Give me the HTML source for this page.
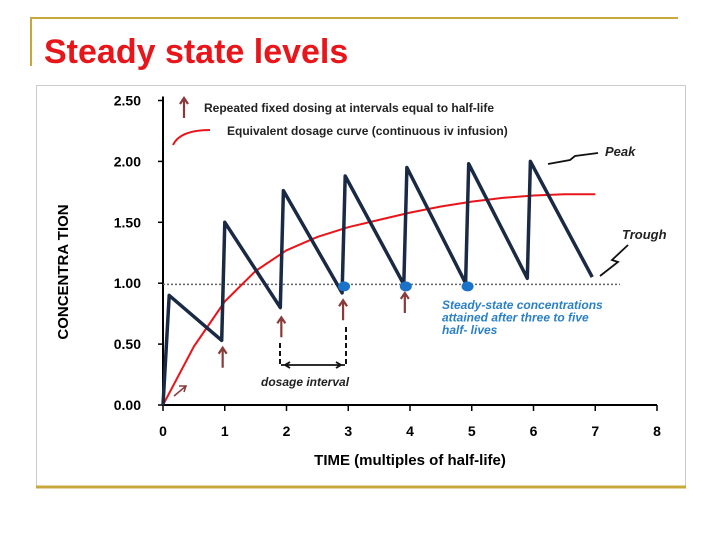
<!DOCTYPE html>
<html><head><meta charset="utf-8"><style>
body{margin:0;width:720px;height:540px;background:#fff;overflow:hidden;font-family:"Liberation Sans",sans-serif}
</style></head><body>
<svg width="720" height="540" xmlns="http://www.w3.org/2000/svg" font-family="Liberation Sans, sans-serif">
<line x1="30" y1="18" x2="678" y2="18" stroke="#c8a83c" stroke-width="2"/>
<line x1="31" y1="18" x2="31" y2="66" stroke="#c8a83c" stroke-width="2"/>
<text x="44" y="63" font-size="34" font-weight="bold" fill="#e8161b">Steady state levels</text>
<rect x="36.5" y="85.5" width="649" height="401" fill="#fff" stroke="#ccc"/>
<line x1="36" y1="487" x2="686" y2="487" stroke="#c8a83c" stroke-width="3"/>
<g id="chart"></g>
</svg>
<script>
const xTicks=[0,1,2,3,4,5,6,7,8];
const yTicks=[0,0.5,1,1.5,2,2.5];
const yTickLabels=["0.00","0.50","1.00","1.50","2.00","2.50"];
const dosingTimes=[0,0.1,0.95,1.0,1.9,1.95,2.9,2.95,3.9,3.95,4.9,4.95,5.9,5.95,6.95];
const dosingConc=[0,0.9,0.53,1.5,0.8,1.76,0.92,1.88,0.99,1.95,1.0,1.98,1.04,2.0,1.05];
const infusionTimes=[0,0.5,1,1.5,2,2.5,3,3.5,4,4.5,5,5.5,6,6.5,7];
const infusionConc=[0,0.48,0.85,1.1,1.27,1.38,1.46,1.52,1.58,1.63,1.67,1.7,1.72,1.73,1.73];
const steadyTimes=[2.9,3.9,4.9];
const steadyConc=[0.99,0.99,0.99];
const doseArrowTimes=[0.95,1.9,2.9,3.9];
const doseArrowTop=[0.47,0.72,0.86,0.92];
const X=t=>163+t*61.75;
const Y=c=>405-c*121.8;
const NS="http://www.w3.org/2000/svg";
const g=document.getElementById('chart');
function mk(tag,at,txt){const e=document.createElementNS(NS,tag);for(const k in at)e.setAttribute(k,at[k]);if(txt!==undefined)e.textContent=txt;g.appendChild(e);return e;}
let e;
e=mk('line',{x1:X(0),y1:Y(0),x2:X(8),y2:Y(0),stroke:'#000','stroke-width':2});


e=mk('line',{x1:X(0),y1:Y(0),x2:X(0),y2:Y(2.5)-4,stroke:'#000','stroke-width':2});


xTicks.forEach(t=>{
 e=mk('line',{x1:X(t),y1:Y(0),x2:X(t),y2:Y(0)+6,stroke:'#000','stroke-width':1.5});
 
 
 e=mk('text',{x:X(t),y:436,'font-size':14,'font-weight':'bold','text-anchor':'middle'},String(t));
 
 
});
yTicks.forEach((v,i)=>{
 e=mk('line',{x1:X(0)-5,y1:Y(v),x2:X(0),y2:Y(v),stroke:'#000','stroke-width':1.5});
 
 
 e=mk('text',{x:141,y:Y(v)+5,'font-size':14,'font-weight':'bold','text-anchor':'end'},yTickLabels[i]);
 
 
});
e=mk('text',{x:410,y:465,'font-size':15,'font-weight':'bold','text-anchor':'middle'},'TIME (multiples of half-life)');


e=mk('text',{x:0,y:0,'font-size':15,'font-weight':'bold','text-anchor':'middle',transform:'translate(68,272) rotate(-90)'},'CONCENTRA TION');


e=mk('line',{x1:X(0),y1:Y(0.99),x2:X(7.4),y2:Y(0.99),stroke:'#666','stroke-width':1.5,'stroke-dasharray':'2,2'});


let d=infusionTimes.map((t,i)=>(i?'L':'M')+X(t).toFixed(1)+','+Y(infusionConc[i]).toFixed(1)).join(' ');
e=mk('path',{d:d,fill:'none',stroke:'#e8161b','stroke-width':2,'stroke-linejoin':'round'});


d=dosingTimes.map((t,i)=>(i?'L':'M')+X(t).toFixed(1)+','+Y(dosingConc[i]).toFixed(1)).join(' ');
e=mk('path',{d:d,fill:'none',stroke:'#1b2a44','stroke-width':3.5,'stroke-linejoin':'round'});


steadyTimes.forEach((t,i)=>{
 e=mk('ellipse',{cx:X(t)+2,cy:Y(steadyConc[i])+2,rx:6,ry:5,fill:'#1a73c8'});
 
 
});
function arrow(x,y1,y2,name){
 e=mk('path',{d:`M${x},${y2} L${x},${y1} M${x-4},${y1+6} L${x},${y1} L${x+4},${y1+6}`,fill:'none',stroke:'#8a3a3a','stroke-width':2.2});
 
 
}
doseArrowTimes.forEach((t,i)=>{const top=Y(doseArrowTop[i]);arrow(X(t)+1,top,top+20,'dose-arrow');});
arrow(184,98,118,'legend-arrow');
e=mk('path',{d:'M174,396 L186,386 M179,386 L186,386 L184,392',fill:'none',stroke:'#8a3a3a','stroke-width':1.5});


e=mk('path',{d:'M173,145 Q180,130 210,130',fill:'none',stroke:'#e8161b','stroke-width':2});


e=mk('text',{x:204,y:112,'font-size':12,'font-weight':'bold',fill:'#222'},'Repeated fixed dosing at intervals equal to half-life');


e=mk('text',{x:227,y:135,'font-size':12,'font-weight':'bold',fill:'#222'},'Equivalent dosage curve (continuous iv infusion)');


e=mk('text',{x:605,y:156,'font-size':13,'font-weight':'bold','font-style':'italic',fill:'#222'},'Peak');


e=mk('path',{d:'M598,153 L575,156 L570,160 L548,164',fill:'none',stroke:'#111','stroke-width':1.8});


e=mk('text',{x:622,y:239,'font-size':13,'font-weight':'bold','font-style':'italic',fill:'#222'},'Trough');


e=mk('path',{d:'M628,245 L612,260 L618,262 L600,276',fill:'none',stroke:'#111','stroke-width':1.8});


['Steady-state concentrations','attained after three to five','half- lives'].forEach((s,i)=>{
 e=mk('text',{x:442,y:309+i*12.5,'font-size':12,'font-weight':'bold','font-style':'italic',fill:'#2a7fc6'},s);
 
 
});
e=mk('path',{d:'M280,343 L280,365 M346,327 L346,365',fill:'none',stroke:'#111','stroke-width':2,'stroke-dasharray':'5,3'});


e=mk('path',{d:'M281,365 L345,365 M290,362 L285,365 L290,368 M336,362 L341,365 L336,368',fill:'none',stroke:'#111','stroke-width':1.8});


e=mk('text',{x:261,y:386,'font-size':12,'font-weight':'bold','font-style':'italic',fill:'#222'},'dosage interval');


</script>
</body></html>
